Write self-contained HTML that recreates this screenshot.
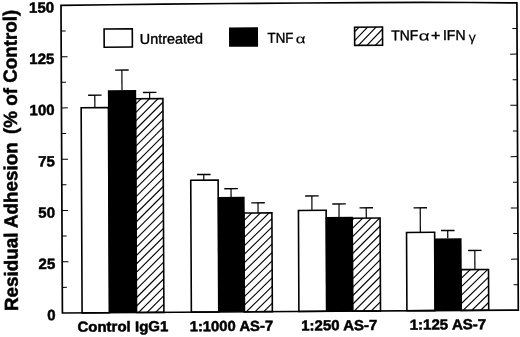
<!DOCTYPE html>
<html lang="en"><head><meta charset="utf-8"><title>Residual Adhesion chart</title>
<style>html,body{margin:0;padding:0;background:#fff;}body{width:520px;height:337px;overflow:hidden;}svg{display:block;}text{font-family:"Liberation Sans",Arial,Helvetica,sans-serif;fill:#000;stroke:#000;stroke-width:0.4px;}text.b{font-weight:bold;stroke-width:0.5px;}</style>
</head><body>
<svg width="520" height="337" viewBox="0 0 520 337">
<rect width="520" height="337" fill="#fff"/>
<g transform="matrix(1,-0.0064,0.0046,1,-1.440,0.399)">
<path d="M95.8 107.9V95.4" stroke="#000" stroke-width="1.2" fill="none"/><path d="M89.1 95.4H102.6" stroke="#000" stroke-width="1.4" fill="none"/>
<path d="M123.0 90.6V70.5" stroke="#000" stroke-width="1.2" fill="none"/><path d="M116.3 70.5H129.8" stroke="#000" stroke-width="1.4" fill="none"/>
<path d="M150.6 99.3V93.0" stroke="#000" stroke-width="1.2" fill="none"/><path d="M143.9 93.0H157.4" stroke="#000" stroke-width="1.4" fill="none"/>
<rect x="82.10" y="107.9" width="27.30" height="205.1" fill="#fff" stroke="#000" stroke-width="1.6"/>
<rect x="136.40" y="99.3" width="27.50" height="213.7" fill="#fff"/>
<clipPath id="c1"><rect x="136.4" y="99.3" width="27.5" height="213.7"/></clipPath>
<g clip-path="url(#c1)"><g transform="matrix(0.999971,0.006400,-0.004600,0.999971,1.4416,-0.3901)"><path d="M133.4 89.50L166.9 56.00M133.4 97.95L166.9 64.45M133.4 106.40L166.9 72.90M133.4 114.85L166.9 81.35M133.4 123.30L166.9 89.80M133.4 131.75L166.9 98.25M133.4 140.20L166.9 106.70M133.4 148.65L166.9 115.15M133.4 157.10L166.9 123.60M133.4 165.55L166.9 132.05M133.4 174.00L166.9 140.50M133.4 182.45L166.9 148.95M133.4 190.90L166.9 157.40M133.4 199.35L166.9 165.85M133.4 207.80L166.9 174.30M133.4 216.25L166.9 182.75M133.4 224.70L166.9 191.20M133.4 233.15L166.9 199.65M133.4 241.60L166.9 208.10M133.4 250.05L166.9 216.55M133.4 258.50L166.9 225.00M133.4 266.95L166.9 233.45M133.4 275.40L166.9 241.90M133.4 283.85L166.9 250.35M133.4 292.30L166.9 258.80M133.4 300.75L166.9 267.25M133.4 309.20L166.9 275.70M133.4 317.65L166.9 284.15M133.4 326.10L166.9 292.60M133.4 334.55L166.9 301.05M133.4 343.00L166.9 309.50M133.4 351.45L166.9 317.95" stroke="#000" stroke-width="1.15" fill="none"/></g></g>
<rect x="136.40" y="99.3" width="27.50" height="213.7" fill="none" stroke="#000" stroke-width="1.6"/>
<rect x="108.90" y="90.6" width="28.30" height="222.4" fill="#000"/>
<path d="M204.4 181.1V175.4" stroke="#000" stroke-width="1.2" fill="none"/><path d="M197.7 175.4H211.2" stroke="#000" stroke-width="1.4" fill="none"/>
<path d="M231.6 198.0V189.8" stroke="#000" stroke-width="1.2" fill="none"/><path d="M224.9 189.8H238.4" stroke="#000" stroke-width="1.4" fill="none"/>
<path d="M258.5 214.2V204.1" stroke="#000" stroke-width="1.2" fill="none"/><path d="M251.8 204.1H265.3" stroke="#000" stroke-width="1.4" fill="none"/>
<rect x="191.35" y="181.1" width="27.40" height="131.9" fill="#fff" stroke="#000" stroke-width="1.6"/>
<rect x="244.35" y="214.2" width="28.00" height="98.8" fill="#fff"/>
<clipPath id="c2"><rect x="244.3" y="214.2" width="28.0" height="98.8"/></clipPath>
<g clip-path="url(#c2)"><g transform="matrix(0.999971,0.006400,-0.004600,0.999971,1.4416,-0.3901)"><path d="M241.3 206.20L275.4 172.71M241.3 214.70L275.4 181.21M241.3 223.20L275.4 189.71M241.3 231.70L275.4 198.21M241.3 240.20L275.4 206.71M241.3 248.70L275.4 215.21M241.3 257.20L275.4 223.71M241.3 265.70L275.4 232.21M241.3 274.20L275.4 240.71M241.3 282.70L275.4 249.21M241.3 291.20L275.4 257.71M241.3 299.70L275.4 266.21M241.3 308.20L275.4 274.71M241.3 316.70L275.4 283.21M241.3 325.20L275.4 291.71M241.3 333.70L275.4 300.21M241.3 342.20L275.4 308.71M241.3 350.70L275.4 317.21" stroke="#000" stroke-width="1.15" fill="none"/></g></g>
<rect x="244.35" y="214.2" width="28.00" height="98.8" fill="none" stroke="#000" stroke-width="1.6"/>
<rect x="218.25" y="198.0" width="26.90" height="115.0" fill="#000"/>
<path d="M312.4 212.0V197.5" stroke="#000" stroke-width="1.2" fill="none"/><path d="M305.7 197.5H319.2" stroke="#000" stroke-width="1.4" fill="none"/>
<path d="M339.5 218.7V205.7" stroke="#000" stroke-width="1.2" fill="none"/><path d="M332.8 205.7H346.3" stroke="#000" stroke-width="1.4" fill="none"/>
<path d="M366.7 220.1V209.8" stroke="#000" stroke-width="1.2" fill="none"/><path d="M360.0 209.8H373.5" stroke="#000" stroke-width="1.4" fill="none"/>
<rect x="298.90" y="212.0" width="27.70" height="101.0" fill="#fff" stroke="#000" stroke-width="1.6"/>
<rect x="352.60" y="220.1" width="27.90" height="92.9" fill="#fff"/>
<clipPath id="c3"><rect x="352.6" y="220.1" width="27.9" height="92.9"/></clipPath>
<g clip-path="url(#c3)"><g transform="matrix(0.999971,0.006400,-0.004600,0.999971,1.4416,-0.3901)"><path d="M349.6 214.30L383.5 180.40M349.6 222.75L383.5 188.85M349.6 231.20L383.5 197.30M349.6 239.65L383.5 205.75M349.6 248.10L383.5 214.20M349.6 256.55L383.5 222.65M349.6 265.00L383.5 231.10M349.6 273.45L383.5 239.55M349.6 281.90L383.5 248.00M349.6 290.35L383.5 256.45M349.6 298.80L383.5 264.90M349.6 307.25L383.5 273.35M349.6 315.70L383.5 281.80M349.6 324.15L383.5 290.25M349.6 332.60L383.5 298.70M349.6 341.05L383.5 307.15M349.6 349.50L383.5 315.60M349.6 357.95L383.5 324.05" stroke="#000" stroke-width="1.15" fill="none"/></g></g>
<rect x="352.60" y="220.1" width="27.90" height="92.9" fill="none" stroke="#000" stroke-width="1.6"/>
<rect x="326.10" y="218.7" width="27.30" height="94.3" fill="#000"/>
<path d="M420.7 234.7V210.1" stroke="#000" stroke-width="1.2" fill="none"/><path d="M414.0 210.1H427.5" stroke="#000" stroke-width="1.4" fill="none"/>
<path d="M448.1 240.8V233.0" stroke="#000" stroke-width="1.2" fill="none"/><path d="M441.4 233.0H454.9" stroke="#000" stroke-width="1.4" fill="none"/>
<path d="M475.1 272.2V253.1" stroke="#000" stroke-width="1.2" fill="none"/><path d="M468.4 253.1H481.9" stroke="#000" stroke-width="1.4" fill="none"/>
<rect x="406.90" y="234.7" width="28.10" height="78.3" fill="#fff" stroke="#000" stroke-width="1.6"/>
<rect x="461.10" y="272.2" width="27.60" height="40.8" fill="#fff"/>
<clipPath id="c4"><rect x="461.1" y="272.2" width="27.6" height="40.8"/></clipPath>
<g clip-path="url(#c4)"><g transform="matrix(0.999971,0.006400,-0.004600,0.999971,1.4416,-0.3901)"><path d="M458.1 264.50L491.7 231.90M458.1 272.95L491.7 240.35M458.1 281.40L491.7 248.80M458.1 289.85L491.7 257.25M458.1 298.30L491.7 265.70M458.1 306.75L491.7 274.15M458.1 315.20L491.7 282.60M458.1 323.65L491.7 291.05M458.1 332.10L491.7 299.50M458.1 340.55L491.7 307.95M458.1 349.00L491.7 316.40M458.1 357.45L491.7 324.85" stroke="#000" stroke-width="1.15" fill="none"/></g></g>
<rect x="461.10" y="272.2" width="27.60" height="40.8" fill="none" stroke="#000" stroke-width="1.6"/>
<rect x="434.50" y="240.8" width="27.40" height="72.2" fill="#000"/>
<g transform="matrix(0.999971,0.006400,-0.004600,0.999971,1.4416,-0.3901)"><path d="M62.40 313.00 L60.99 5.40 L110.00 4.75 L163.00 4.10 L230.00 3.50 L303.00 3.00 L365.00 2.65 L423.00 2.40 L470.00 2.50 L516.89 2.90 L518.30 310.08Z" fill="none" stroke="#000" stroke-width="1.7" stroke-linejoin="miter"/></g>
<path d="M62.4 287.4h4.6M518.3 287.7h-4.6M62.4 261.7h6.3M518.3 262.0h-7.0M62.4 236.1h4.6M518.3 236.4h-4.6M62.4 210.5h6.3M518.3 210.8h-7.0M62.4 184.8h4.6M518.3 185.1h-4.6M62.4 159.2h6.3M518.3 159.5h-7.0M62.4 133.6h4.6M518.3 133.9h-4.6M62.4 107.9h6.3M518.3 108.2h-7.0M62.4 82.3h4.6M518.3 82.6h-4.6M62.4 56.7h6.3M518.3 57.0h-7.0M62.4 31.0h4.6M518.3 31.3h-4.6" stroke="#000" stroke-width="1" fill="none"/>
<text x="55.5" y="320.1" font-size="15" class="b" text-anchor="end">0</text>
<text x="55.5" y="268.8" font-size="15" class="b" text-anchor="end">25</text>
<text x="55.5" y="217.6" font-size="15" class="b" text-anchor="end">50</text>
<text x="55.5" y="166.3" font-size="15" class="b" text-anchor="end">75</text>
<text x="55.5" y="115.0" font-size="15" class="b" text-anchor="end">100</text>
<text x="55.5" y="63.8" font-size="15" class="b" text-anchor="end">125</text>
<text x="55.5" y="12.5" font-size="15" class="b" text-anchor="end">150</text>
<text transform="translate(17.9,310.8) rotate(-90)" font-size="19" class="b" textLength="168.8" lengthAdjust="spacingAndGlyphs">Residual Adhesion</text>
<text transform="translate(17.9,133.6) rotate(-90)" font-size="19" class="b" textLength="124.1" lengthAdjust="spacingAndGlyphs">(% of Control)</text>
<text x="77.3" y="331.9" font-size="14.5" class="b" textLength="91" lengthAdjust="spacingAndGlyphs">Control IgG1</text>
<text x="189.6" y="332.1" font-size="14.5" class="b" textLength="83.5" lengthAdjust="spacingAndGlyphs">1:1000 AS-7</text>
<text x="301.2" y="332.0" font-size="14.5" class="b" textLength="76" lengthAdjust="spacingAndGlyphs">1:250 AS-7</text>
<text x="409.6" y="331.9" font-size="14.5" class="b" textLength="76.6" lengthAdjust="spacingAndGlyphs">1:125 AS-7</text>
<rect x="105.4" y="29.3" width="28.2" height="18.2" fill="#fff" stroke="#000" stroke-width="1.6"/>
<text x="141.1" y="44.4" font-size="14.4" textLength="63.2" lengthAdjust="spacingAndGlyphs">Untreated</text>
<rect x="230.3" y="28.5" width="29" height="19.4" fill="#000"/>
<text x="268.8" y="44.2" font-size="14.3" textLength="25.8" lengthAdjust="spacingAndGlyphs">TNF</text>
<text x="296.9" y="44.8" font-size="12.5" textLength="9.8" lengthAdjust="spacingAndGlyphs" style="stroke-width:0.15px">α</text>
<clipPath id="c5"><rect x="355.9" y="29.1" width="27.9" height="18.2"/></clipPath>
<g clip-path="url(#c5)"><g transform="matrix(0.999971,0.006400,-0.004600,0.999971,1.4416,-0.3901)"><path d="M352.9 24.76L386.8 -10.49M352.9 33.56L386.8 -1.69M352.9 42.36L386.8 7.11M352.9 51.16L386.8 15.91M352.9 59.96L386.8 24.71M352.9 68.76L386.8 33.51M352.9 77.56L386.8 42.31M352.9 86.36L386.8 51.11" stroke="#000" stroke-width="1.15" fill="none"/></g></g>
<rect x="355.9" y="29.1" width="27.9" height="18.2" fill="none" stroke="#000" stroke-width="1.6"/>
<text x="392.5" y="42.3" font-size="14.3" textLength="27" lengthAdjust="spacingAndGlyphs">TNF</text>
<text x="420.0" y="42.8" font-size="13.5" textLength="10.9" lengthAdjust="spacingAndGlyphs" style="stroke-width:0.15px">α</text>
<text x="432.2" y="42.6" font-size="14.3" textLength="9.4" lengthAdjust="spacingAndGlyphs">+</text>
<text x="444.2" y="42.5" font-size="14.3" textLength="22.6" lengthAdjust="spacingAndGlyphs">IFN</text>
<text x="469.9" y="44.0" font-size="12.6" textLength="7.1" lengthAdjust="spacingAndGlyphs" style="stroke-width:0.15px">γ</text>
</g></svg></body></html>
